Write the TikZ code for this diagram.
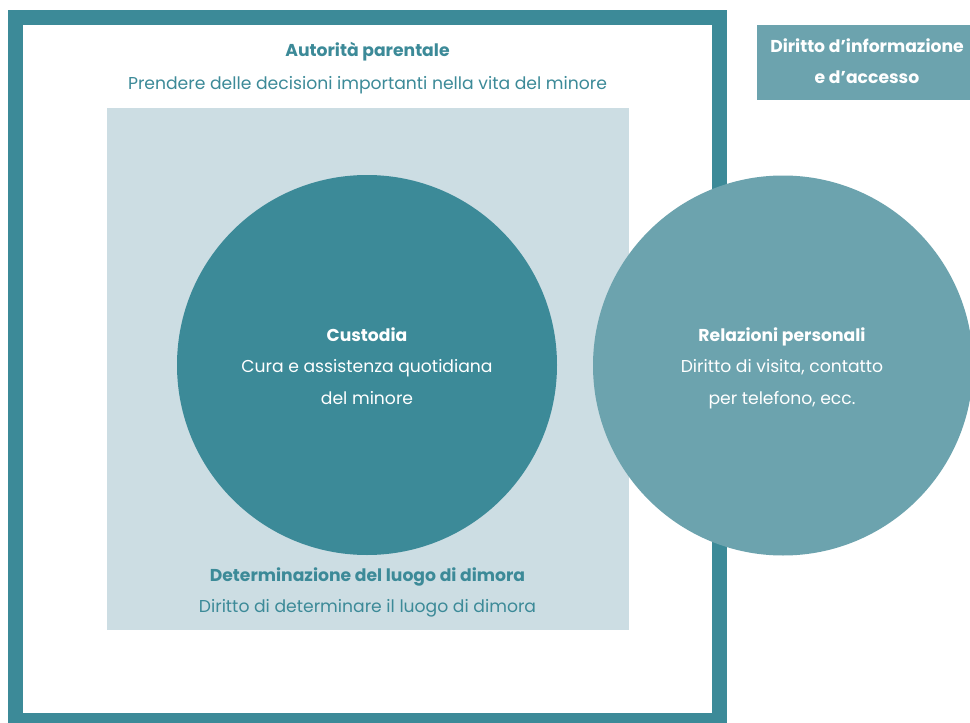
\documentclass[tikz,border=0pt]{standalone}
\usepackage{fontspec}
\setmainfont{Poppins}
\definecolor{darkteal}{HTML}{3C8A98}
\definecolor{lightblue}{HTML}{CCDDE3}
\definecolor{midteal}{HTML}{6CA3AE}
\begin{document}
\begin{tikzpicture}[x=1pt,y=-1pt,
  title/.style={anchor=base,inner sep=0pt,font=\fontsize{17.2}{20}\selectfont\bfseries},
  sub/.style={anchor=base,inner sep=0pt,font=\fontsize{17.2}{20}\selectfont},
  tealtext/.style={text=darkteal},
  whitetext/.style={text=white}]
\useasboundingbox (0,0) rectangle (970,723);
\clip (0,0) rectangle (970,723);
\fill[white] (0,0) rectangle (970,723);
% outer frame
\draw[darkteal,line width=15pt] (15.5,17.5) rectangle (719.5,720.5);
% inner light rectangle
\fill[lightblue] (107,108) rectangle (629,630);
% circles
\fill[darkteal] (367,365) circle[radius=190];
\fill[midteal] (783,365.5) circle[radius=190];
% top-right box
\node[fill=midteal,minimum width=220pt,minimum height=75pt,inner sep=0pt,anchor=north west] (box) at (757,25) {};
% texts
\node[title,tealtext] (apt) at (367.5,56) {Autorità parentale};
\node[sub,tealtext] (aps) at (367.5,89) {Prendere delle decisioni importanti nella vita del minore};
\node[title,whitetext] (cut) at (367,341) {Custodia};
\node[sub,whitetext] (cu1) at (367,372) {Cura e assistenza quotidiana};
\node[sub,whitetext] (cu2) at (367,404) {del minore};
\node[title,whitetext] (rpt) at (782,341) {Relazioni personali};
\node[sub,whitetext] (rp1) at (782,372) {Diritto di visita, contatto};
\node[sub,whitetext] (rp2) at (782,404) {per telefono, ecc.};
\node[title,tealtext] (dlt) at (367.5,581) {Determinazione del luogo di dimora};
\node[sub,tealtext] (dls) at (367.5,612) {Diritto di determinare il luogo di dimora};
\node[title,whitetext] (bx1) at (867,52) {Diritto d’informazione};
\node[title,whitetext] (bx2) at (867,83) {e d’accesso};
\end{tikzpicture}
\end{document}
